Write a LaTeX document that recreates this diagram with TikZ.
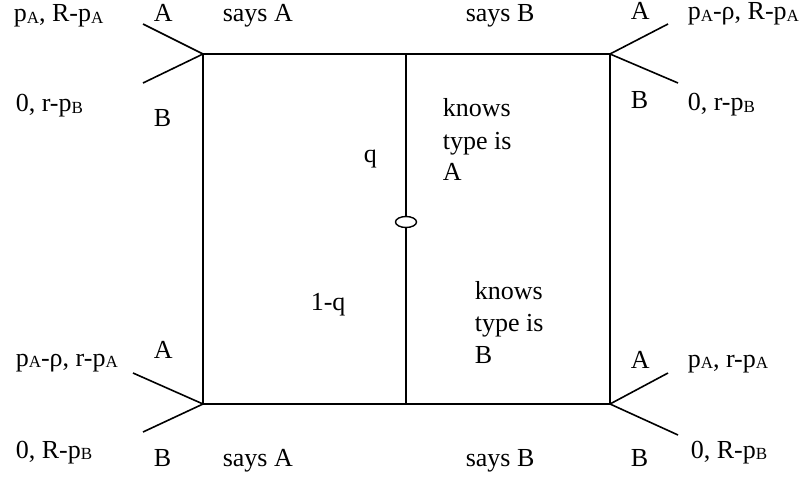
\documentclass[tikz,border=0pt]{standalone}
\usepackage{fontspec}
\setmainfont{Liberation Serif}
\usetikzlibrary{shapes.geometric}
\newcommand{\lo}[1]{\raisebox{-0.04em}{\fontsize{17pt}{17pt}\selectfont #1}}
\begin{document}
\begin{tikzpicture}[x=1pt,y=-1pt,line width=1.6pt,
  every node/.style={font=\fontsize{26pt}{32pt}\selectfont,inner sep=0pt},
  lbl/.style={anchor=base west},
  blk/.style={anchor=base west,align=left},
  oval/.style={ellipse,draw,fill=white,minimum width=21pt,minimum height=11pt,line width=1.4pt}]
\useasboundingbox (0,0) rectangle (805,481);
% corners of the tree
\coordinate (TL) at (203,54);
\coordinate (TM) at (406,54);
\coordinate (TR) at (610,54);
\coordinate (BL) at (203,404);
\coordinate (BM) at (406,404);
\coordinate (BR) at (610,404);
% branch ends
\coordinate (tlA) at (143,24);
\coordinate (tlB) at (143,83);
\coordinate (trA) at (668,24);
\coordinate (trB) at (678,83);
\coordinate (blA) at (133,373);
\coordinate (blB) at (143,432);
\coordinate (brA) at (668,373);
\coordinate (brB) at (678,435);
% lines
\draw (TL) -- (TR);
\draw (BL) -- (BR);
\draw (TL) -- (BL);
\draw (TR) -- (BR);
\node[oval] (chance) at (406,222) {};
\draw (TM) -- (chance);
\draw (chance) -- (BM);
\draw (TL) -- (tlA);
\draw (TL) -- (tlB);
\draw (TR) -- (trA);
\draw (TR) -- (trB);
\draw (BL) -- (blA);
\draw (BL) -- (blB);
\draw (BR) -- (brA);
\draw (BR) -- (brB);
% top labels
\node[lbl] (p1) at (13,22) {p\lo{A}, R-p\lo{A}};
\node[lbl] (a1) at (153,22) {A};
\node[lbl] (s1) at (222,22) {says A};
\node[lbl] (s2) at (465,22) {says B};
\node[lbl] (a2) at (630,20) {A};
\node[lbl] (p2) at (687,20) {p\lo{A}-ρ, R-p\lo{A}};
\node[lbl] (p3) at (15,112) {0, r-p\lo{B}};
\node[lbl] (b1) at (153,127) {B};
\node[lbl] (b2) at (630,109) {B};
\node[lbl] (p4) at (687,111) {0, r-p\lo{B}};
% middle
\node[lbl] (q) at (363,163) {q};
\node[blk] (kA) at (442,181) {knows\\type is\\A};
\node[lbl] (q2) at (310,310) {1-q};
\node[blk] (kB) at (474,363) {knows\\type is\\B};
% bottom labels
\node[lbl] (p5) at (15,366) {p\lo{A}-ρ, r-p\lo{A}};
\node[lbl] (a3) at (153,358) {A};
\node[lbl] (p6) at (15,458) {0, R-p\lo{B}};
\node[lbl] (b3) at (153,466) {B};
\node[lbl] (s3) at (222,466) {says A};
\node[lbl] (s4) at (465,466) {says B};
\node[lbl] (a4) at (630,368) {A};
\node[lbl] (p7) at (687,367) {p\lo{A}, r-p\lo{A}};
\node[lbl] (b4) at (630,466) {B};
\node[lbl] (p8) at (690,458) {0, R-p\lo{B}};
\end{tikzpicture}
\end{document}
